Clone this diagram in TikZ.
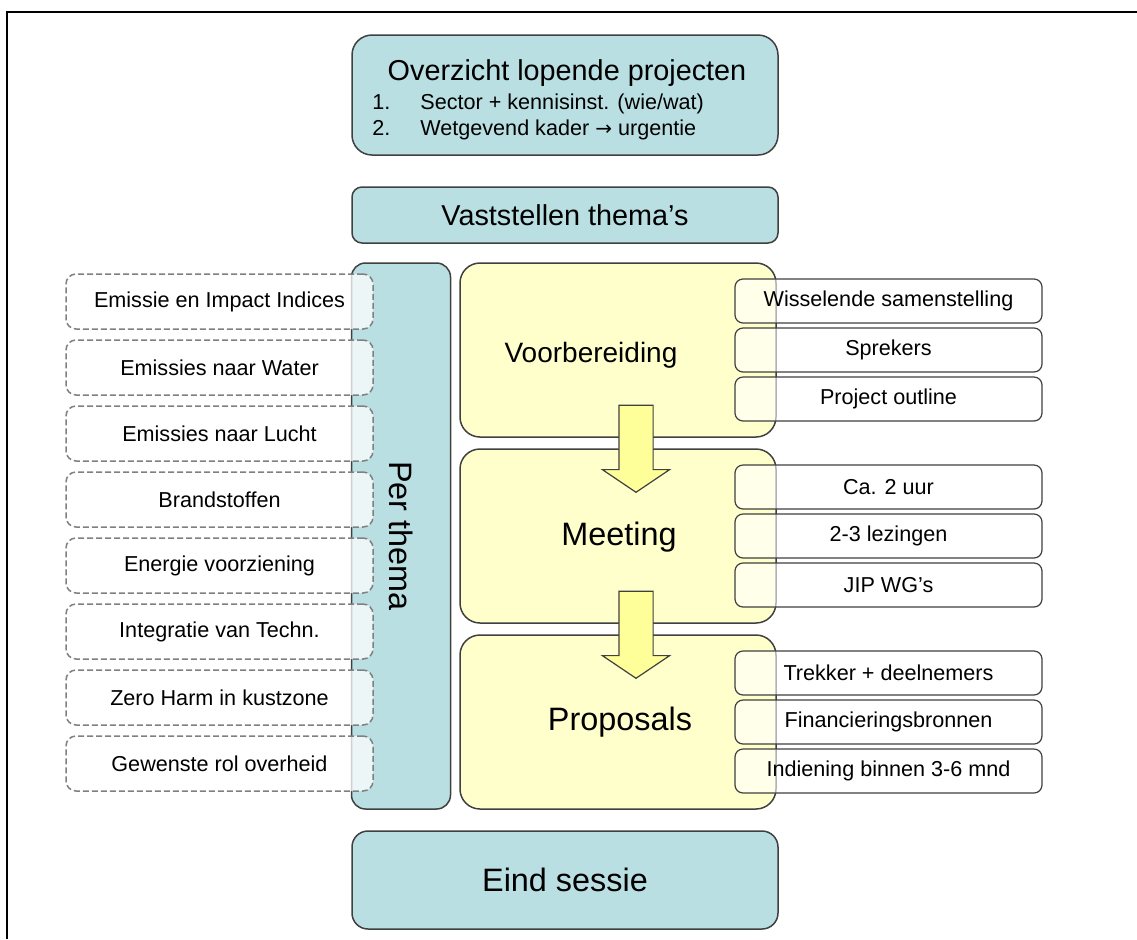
\documentclass[tikz,border=0pt]{standalone}
\usepackage{fontspec}
\setmainfont{Liberation Sans}
\newfontfamily\pijlfont{DejaVu Sans}
\usetikzlibrary{shapes.arrows}

\definecolor{themablauw}{RGB}{185,223,226}
\definecolor{fasegeel}{RGB}{255,255,204}
\definecolor{pijlgeel}{RGB}{255,255,153}
\definecolor{rand}{RGB}{64,64,64}

\newcommand{\kleinfont}{\fontsize{10.8}{13}\selectfont}
\newcommand{\titelfont}{\fontsize{14.4}{17}\selectfont}
\newcommand{\grootfont}{\fontsize{16.2}{19}\selectfont}

\begin{document}
\begin{tikzpicture}[x=0.5pt,y=-0.5pt,
  blok/.style={draw=rand,line width=0.75pt,fill=themablauw},
  fase/.style={draw=rand,line width=0.75pt,fill=fasegeel,rounded corners=10pt,
    minimum width=158pt,minimum height=87pt},
  punt/.style={draw=rand,line width=0.6pt,fill=white,fill opacity=0.6,text opacity=1,
    rounded corners=4pt,minimum width=153.5pt,minimum height=22pt,inner sep=0pt,font=\kleinfont},
  thema/.style={draw=gray,dash pattern=on 3pt off 1.5pt,line width=0.75pt,fill=white,
    fill opacity=0.75,text opacity=1,rounded corners=5pt,minimum width=153.5pt,
    minimum height=27.5pt,inner sep=0pt,font=\kleinfont},
  lijst/.style={font=\kleinfont,anchor=base west,inner sep=0pt},
  pijl/.style={shape=single arrow,draw=rand,line width=0.6pt,fill=pijlgeel,
    shape border rotate=270,minimum height=43.5pt,inner sep=8.25pt,
    single arrow head extend=8.25pt,single arrow tip angle=112,anchor=tip}]
  \useasboundingbox (0,0) rectangle (1137,939);

  % Frame
  \draw[line width=1pt] (7,939) -- (7,12) -- (1137,12);

  % Overzicht
  \node[blok,minimum width=213pt,minimum height=60pt,rounded corners=10pt] (overzicht) at (565,95) {};
  \node[font=\titelfont] (overtitel) at (567,73) {Overzicht lopende projecten};
  \node[lijst] (nr1) at (372,109) {1.};
  \node[lijst] (punt1) at (420,109) {Sector + kennisinst. (wie/wat)};
  \node[lijst] (nr2) at (372,135) {2.};
  \node[lijst] (punt2) at (420,135) {Wetgevend kader {\pijlfont\fontsize{10}{13}\selectfont →} urgentie};

  % Vaststellen
  \node[blok,minimum width=213pt,minimum height=28pt,rounded corners=5pt,font=\titelfont]
    (vaststellen) at (565,215) {Vaststellen thema's};

  % Per thema
  \node[blok,rotate=-90,minimum width=273pt,minimum height=49.5pt,rounded corners=7pt,font=\grootfont]
    (perthema) at (401,536) {Per thema};

  % Thema's
  \foreach \tekst [count=\i from 0] in {Emissie en Impact Indices,Emissies naar Water,
      Emissies naar Lucht,Brandstoffen,Energie voorziening,Integratie van Techn.,
      Zero Harm in kustzone,Gewenste rol overheid}
    \node[thema] (thema\i) at (219.5,{301.5+66*\i}) {\tekst};

  % Fasen
  \node[fase] (voorbereiding) at (618,350) {};
  \node[fase] (meeting) at (618,536) {};
  \node[fase] (proposals) at (618,722) {};
  \node[font=\fontsize{14}{17}\selectfont] (voortekst) at (591,355) {Voorbereiding};
  \node[font=\grootfont] (meetingtekst) at (619,537) {Meeting};
  \node[font=\grootfont] (proposalstekst) at (620,722) {Proposals};

  % Punten per fase
  \foreach \tekst [count=\i from 0] in {Wisselende samenstelling,Sprekers,Project outline}
    \node[punt] (voor\i) at (888.5,{301+49*\i}) {\tekst};
  \foreach \tekst [count=\i from 0] in {Ca. 2 uur,2-3 lezingen,JIP WG's}
    \node[punt] (meet\i) at (888.5,{487+49*\i}) {\tekst};
  \foreach \tekst [count=\i from 0] in {Trekker + deelnemers,Financieringsbronnen,Indiening binnen 3-6 mnd}
    \node[punt] (prop\i) at (888.5,{673+49*\i}) {\tekst};

  % Pijlen
  \node[pijl] (pijl1) at (636,493) {};
  \node[pijl] (pijl2) at (636,679) {};

  % Eind sessie
  \node[blok,minimum width=213pt,minimum height=49pt,rounded corners=8pt,font=\grootfont]
    (eind) at (565,880) {Eind sessie};
\end{tikzpicture}
\end{document}
